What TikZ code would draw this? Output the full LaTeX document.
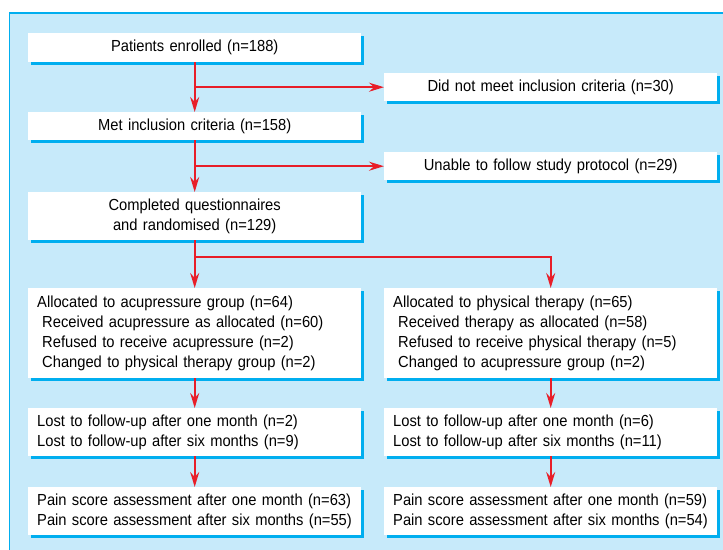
\documentclass[tikz,border=0pt]{standalone}
\usepackage{fontspec}
\setmainfont{Liberation Sans}[FakeStretch=0.92]
\usetikzlibrary{arrows.meta,shadows}
\definecolor{panelblue}{RGB}{199,234,250}
\definecolor{edgeblue}{RGB}{0,174,239}
\definecolor{arrowred}{RGB}{232,30,40}
\tikzset{
 flowbox/.style={fill=white, anchor=north west, minimum width=333pt, text width=315pt,
  inner xsep=9pt, inner ysep=0pt, font=\fontsize{16}{20}\selectfont,
  drop shadow={shadow xshift=3pt, shadow yshift=-3pt, fill=edgeblue, opacity=1}},
 flowarrow/.style={draw=arrowred, line width=1.8pt, -{Stealth[length=15pt,width=9pt,inset=5pt]}}
}
\newcommand{\subln}{\\\hspace*{5pt}}

\begin{document}
\begin{tikzpicture}[x=1pt,y=-1pt]
%%%%%panel starts here
\def\xl{28}
\def\xr{384}
\useasboundingbox (0,0) rectangle (723,549);
\clip (0,0) rectangle (723,549);
\draw[fill=panelblue, draw=edgeblue, line width=1.3pt] (9.5,13) rectangle (740,570);
%%%%%panel ends here

%%%%%main column
\node[flowbox, minimum height=29pt, align=center] (enrol) at (\xl,33) {Patients enrolled (n=188)};
\node[flowbox, minimum height=28pt, align=center] (nomeet) at (\xr,73) {Did not meet inclusion criteria (n=30)};
\node[flowbox, minimum height=28pt, align=center] (met) at (\xl,112) {Met inclusion criteria (n=158)};
\node[flowbox, minimum height=28pt, align=center] (unable) at (\xr,152) {Unable to follow study protocol (n=29)};
\node[flowbox, minimum height=48pt, align=center] (random) at (\xl,192) {Completed questionnaires\\and randomised (n=129)};

%%%%%two arms
\node[flowbox, minimum height=90pt, align=left] (acuA) at (\xl,288) {Allocated to acupressure group (n=64)\subln Received acupressure as allocated (n=60)\subln Refused to receive acupressure (n=2)\subln Changed to physical therapy group (n=2)};
\node[flowbox, minimum height=90pt, align=left] (phyA) at (\xr,288) {Allocated to physical therapy (n=65)\subln Received therapy as allocated (n=58)\subln Refused to receive physical therapy (n=5)\subln Changed to acupressure group (n=2)};
\node[flowbox, minimum height=48pt, align=left] (acuB) at (\xl,408) {Lost to follow-up after one month (n=2)\\Lost to follow-up after six months (n=9)};
\node[flowbox, minimum height=48pt, align=left] (phyB) at (\xr,408) {Lost to follow-up after one month (n=6)\\Lost to follow-up after six months (n=11)};
\node[flowbox, minimum height=48pt, align=left] (acuC) at (\xl,487) {Pain score assessment after one month (n=63)\\Pain score assessment after six months (n=55)};
\node[flowbox, minimum height=48pt, align=left] (phyC) at (\xr,487) {Pain score assessment after one month (n=59)\\Pain score assessment after six months (n=54)};

%%%%%arrows
\coordinate (split) at (194,257);
\draw[flowarrow] (enrol) -- (met);
\draw[flowarrow] (enrol.south |- nomeet.west) -- (nomeet.west);
\draw[flowarrow] (met) -- (random);
\draw[flowarrow] (met.south |- unable.west) -- (unable.west);
\draw[flowarrow] (random) -- (acuA);
\draw[flowarrow] (split) -| (phyA.north);
\foreach \a/\b in {acuA/acuB,acuB/acuC,phyA/phyB,phyB/phyC}
 \draw[flowarrow] (\a) -- (\b);
\end{tikzpicture}
\end{document}
